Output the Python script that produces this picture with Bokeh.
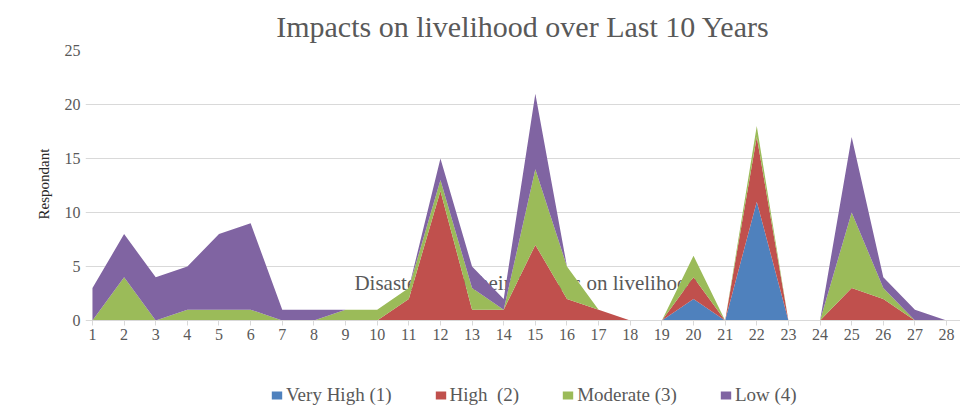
from bokeh.plotting import figure
from bokeh.models import Range1d, FixedTicker, Legend, LegendItem, ColumnDataSource, Title
from bokeh.core.properties import value
from bokeh.embed import file_html
from bokeh.resources import INLINE

# ---- data ----
categories = list(range(1, 29))
very_high = [0, 0, 0, 0, 0, 0, 0, 0, 0, 0, 0, 0, 0, 0, 0, 0, 0, 0, 0, 2, 0, 11, 0, 0, 0, 0, 0, 0]
high      = [0, 0, 0, 0, 0, 0, 0, 0, 0, 0, 2, 12, 1, 1, 7, 2, 1, 0, 0, 2, 0, 6, 0, 0, 3, 2, 0, 0]
moderate  = [0, 4, 0, 1, 1, 1, 0, 0, 1, 1, 1, 1, 2, 0, 7, 3, 0, 0, 0, 2, 0, 1, 0, 0, 7, 1, 0, 0]
low       = [3, 4, 4, 4, 7, 8, 1, 1, 0, 0, 0, 2, 2, 1, 7, 0, 0, 0, 0, 0, 0, 0, 0, 0, 7, 1, 1, 0]
series_names = ["Very High (1)", "High  (2)", "Moderate (3)", "Low (4)"]
series_colors = ["#4F81BD", "#C0504D", "#9BBB59", "#8064A2"]
y_ticks = [0, 5, 10, 15, 20, 25]

title_text = "Impacts on livelihood over Last 10 Years"
x_title = "Disasters and their impacts on livelihood"
y_title = "Respondant"

source = ColumnDataSource(dict(x=categories, vh=very_high, h=high, m=moderate, l=low))

FONT = "Liberation Serif"
GREY = "#595959"
LINE = "#d9d9d9"

# frame extends below the axis so that the legend can sit inside it
p = figure(width=960, height=410, output_backend="svg", toolbar_location=None,
           x_range=Range1d(0.78, 28.44), y_range=Range1d(-8.15, 25),
           min_border_left=85, min_border_right=0, min_border_top=50, min_border_bottom=2)
p.outline_line_color = None
p.background_fill_color = "white"
p.border_fill_color = "white"

p.title.text = title_text
p.title.align = "center"
p.title.vertical_align = "top"
p.title.text_font = FONT
p.title.text_font_size = "30px"
p.title.text_font_style = "normal"
p.title.text_color = GREY
p.title.standoff = 11

# x axis title drawn inside the plot, behind the areas
p.text(x=[9.28], y=[3.5], text=[x_title], text_font=value(FONT), text_font_size="21px",
       text_color=GREY, text_align="left", text_baseline="alphabetic")

renderers = p.varea_stack(stackers=["vh", "h", "m", "l"], x="x", color=series_colors, source=source)

# axes
p.xaxis.fixed_location = 0
p.xaxis.bounds = (1, 28.44)
p.xaxis.ticker = FixedTicker(ticks=categories)
p.xaxis.axis_line_color = LINE
p.xaxis.major_tick_line_color = LINE
p.xaxis.major_tick_out = 5
p.xaxis.major_tick_in = 0
p.xaxis.minor_tick_line_color = None
p.xaxis.major_label_text_font = FONT
p.xaxis.major_label_text_font_size = "16px"
p.xaxis.major_label_text_color = GREY
p.xaxis.major_label_standoff = 4

p.yaxis.ticker = FixedTicker(ticks=y_ticks)
p.yaxis.axis_line_color = None
p.yaxis.major_tick_line_color = None
p.yaxis.minor_tick_line_color = None
p.yaxis.major_tick_out = 0
p.yaxis.major_label_standoff = 5
p.yaxis.major_label_text_font = FONT
p.yaxis.major_label_text_font_size = "16px"
p.yaxis.major_label_text_color = GREY

p.add_layout(Title(text=y_title, align="left", offset=189, standoff=19,
                   text_font=FONT, text_font_size="15px", text_font_style="normal",
                   text_color="#262626"), "left")

p.xgrid.grid_line_color = None
p.ygrid.grid_line_color = LINE
p.ygrid.ticker = FixedTicker(ticks=y_ticks)

legend = Legend(items=[LegendItem(label=n, renderers=[r]) for n, r in zip(series_names, renderers)],
                orientation="horizontal", location=(185, 2),
                glyph_width=13, glyph_height=10, label_standoff=3, spacing=42,
                padding=0, margin=0, border_line_color=None, background_fill_alpha=0,
                label_text_font=FONT, label_text_font_size="19px", label_text_color=GREY)
p.add_layout(legend, "center")

open("out.html", "w").write(file_html(p, INLINE))
